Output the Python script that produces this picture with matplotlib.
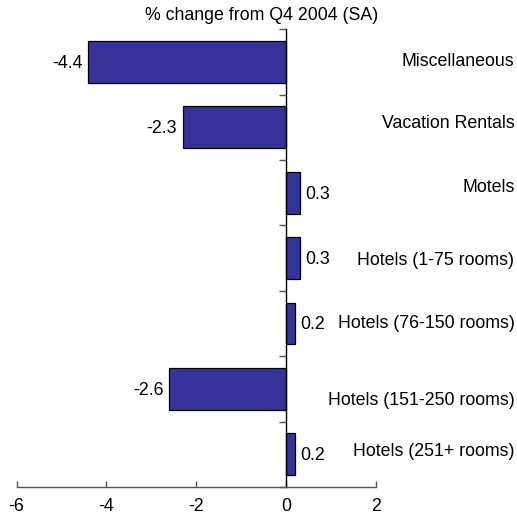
import matplotlib
matplotlib.use("Agg")
import matplotlib.pyplot as plt
import numpy as np

plt.rcParams['font.family'] = ['Liberation Sans', 'DejaVu Sans']
plt.rcParams['axes.unicode_minus'] = False

categories = ['Miscellaneous', 'Vacation Rentals', 'Motels', 'Hotels (1-75 rooms)',
              'Hotels (76-150 rooms)', 'Hotels (151-250 rooms)', 'Hotels (251+ rooms)']
values = [-4.4, -2.3, 0.3, 0.3, 0.2, -2.6, 0.2]
x_ticks = [-6, -4, -2, 0, 2]
# small vertical nudges of the category labels (points), as in the original
label_nudge = [0, 3, 4, -2, 0, -8, 2]

FS = 12.8

fig = plt.figure(figsize=(5.17, 5.22), dpi=100)
ax = fig.add_axes([0.032, 0.067, 0.695, 0.877])

n = len(categories)
ypos = np.arange(n)[::-1]
ax.barh(ypos, values, height=0.64, color='#333399', edgecolor='black', linewidth=0.9)

ax.set_xlim(-6, 2)
ax.set_ylim(-0.5, n - 0.5)

for y, v, c, dy in zip(ypos, values, categories, label_nudge):
    if v < 0:
        ax.annotate(f'{v:.1f}', (v, y), xytext=(-4, -1), textcoords='offset points',
                    ha='right', va='center', fontsize=FS)
    else:
        ax.annotate(f'{v:.1f}', (v, y), xytext=(4, -1), textcoords='offset points',
                    ha='left', va='center', fontsize=FS)
    ax.annotate(c, (1.0, y), xycoords=('axes fraction', 'data'),
                xytext=(0.995, dy), textcoords=('figure fraction', 'offset points'),
                ha='right', va='center', fontsize=FS)

# spines: y axis sits at zero
ax.spines['top'].set_visible(False)
ax.spines['right'].set_visible(False)
ax.spines['left'].set_position(('data', 0))
ax.spines['left'].set_linewidth(1.0)
ax.spines['bottom'].set_linewidth(1.0)
ax.spines['bottom'].set_color('#555555')

ax.set_yticks(np.arange(n + 1) - 0.5)
ax.set_yticklabels([])
ax.tick_params(axis='y', direction='out', length=5, width=1, color='#555555')
ax.set_xticks(x_ticks)
ax.tick_params(axis='x', direction='in', length=4, width=1, color='#555555', labelsize=FS, pad=8)

fig.text(0.507, 0.971, '% change from Q4 2004 (SA)', ha='center', va='center', fontsize=FS)

fig.savefig('out.png', dpi=100)
